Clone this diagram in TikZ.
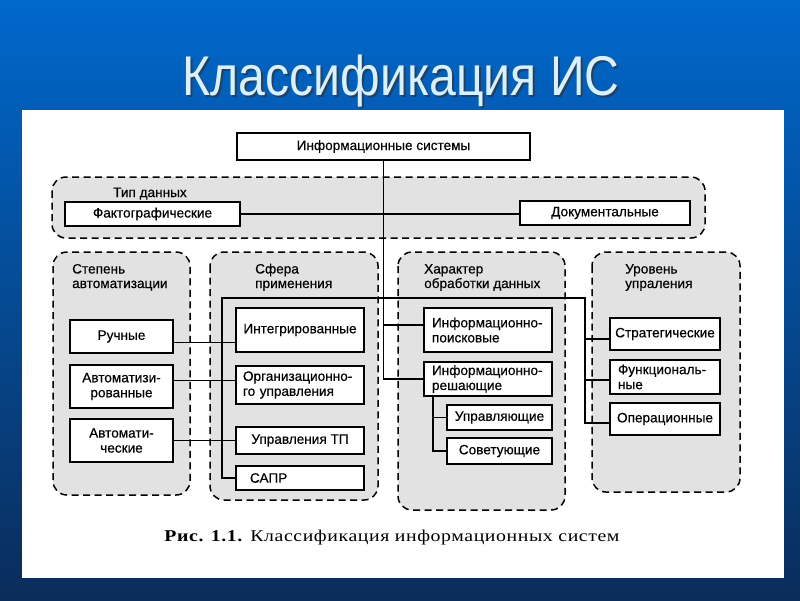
\documentclass[tikz,border=0pt]{standalone}
\usepackage{fontspec}
\setmainfont{Liberation Sans}
\newfontfamily\boxfont[FakeBold=0.4]{Liberation Sans}
\newfontfamily\capfont[LetterSpace=3]{Liberation Serif}
\usetikzlibrary{positioning}
\definecolor{slidetop}{HTML}{0068CC}
\definecolor{slidebot}{HTML}{0A2C5A}
\definecolor{titleblue}{HTML}{D8F0FF}
\definecolor{groupgray}{HTML}{E2E2E2}

\begin{document}
\begin{tikzpicture}[x=1pt,y=-1pt,
  box/.style={draw,line width=1.4pt,fill=white,align=center,inner sep=2pt,
    font=\boxfont\fontsize{13.6}{15}\selectfont},
  colA/.style={box,minimum width=103pt},
  colB/.style={box,minimum width=128pt},
  colD/.style={box,minimum width=105pt},
  colE/.style={box,minimum width=110pt},
  group/.style={draw,dash pattern=on 7pt off 4.5pt,line width=1.5pt,
    rounded corners=14pt,fill=groupgray},
  grouplabel/.style={align=left,anchor=base west,inner sep=0pt,
    font=\boxfont\fontsize{13.6}{14.5}\selectfont},
  link/.style={line width=1.1pt}]
\useasboundingbox (0,0) rectangle (800,600);
\shade[top color=slidetop,bottom color=slidebot] (0,0) rectangle (800,600);
\fill[white] (22,110) rectangle (784,578);

% title
\node[anchor=base,text=black!80,opacity=.7,xscale=.86,
  font=\fontsize{56}{60}\selectfont] (titleshadow) at (403,97) {Классификация ИС};
\node[anchor=base,text=titleblue,xscale=.86,
  font=\fontsize{56}{60}\selectfont] (title) at (401,95) {Классификация ИС};

% groups
\draw[group] (52,177) rectangle (705,238);
\draw[group] (53,252) rectangle (190,495);
\draw[group] (210,252) rectangle (378,500);
\draw[group] (398,252) rectangle (565,510);
\draw[group] (592,252) rectangle (740,492);
\node[grouplabel] (lbtype) at (113,197) {Тип данных};
\node[grouplabel] (lbauto) at (72,288) {Степень\\автоматизации};
\node[grouplabel] (lbsfera) at (255,288) {Сфера\\применения};
\node[grouplabel] (lbchar) at (424,288) {Характер\\обработки данных};
\node[grouplabel] (lblevel) at (625,288) {Уровень\\упраления};

% boxes
\node[box,minimum width=293pt,minimum height=27pt] (is) at (383.5,146.5) {Информационные системы};
\node[box,minimum width=175pt,minimum height=24pt] (fakt) at (152.5,214) {Фактографические};
\node[box,minimum width=170pt,minimum height=24pt] (dok) at (605,213) {Документальные};

\node[colA,minimum height=33pt] (ruch) at (121.5,336.5) {Ручные};
\node[colA,minimum height=43pt] (avtz) at (121.5,386.5) {Автоматизи-\\рованные};
\node[colA,minimum height=43pt] (avtm) at (121.5,440.5) {Автомати-\\ческие};

\node[colB,minimum height=44pt] (integr) at (300,330) {Интегрированные};
\node[colB,minimum height=38pt,text width=114pt,align=left] (org) at (300,385) {Организационно-\\го управления};
\node[colB,minimum height=27pt] (utp) at (300,440.5) {Управления ТП};
\node[colB,minimum height=24pt,text width=100pt,align=left] (sapr) at (300,478) {САПР};

\node[colB,minimum height=44pt,text width=112pt,align=left] (ipoisk) at (488,330) {Информационно-\\поисковые};
\node[colB,minimum height=34pt,text width=112pt,align=left] (ires) at (488,379) {Информационно-\\решающие};
\node[colD,minimum height=25pt] (uprav) at (499.5,417.5) {Управляющие};
\node[colD,minimum height=26pt] (sovet) at (499.5,451) {Советующие};

\node[colE,minimum height=32pt] (strat) at (665,334) {Стратегические};
\node[colE,minimum height=34pt,text width=94pt,align=left] (funk) at (665,377) {Функциональ-\\ные};
\node[colE,minimum height=32pt] (oper) at (665,419) {Операционные};

% connectors
\coordinate (sl) at (222,298);
\coordinate (sr) at (585,298);
\coordinate (rk) at (433,396);
\draw[link] (is) |- (ires);
\draw[link] (fakt.east) -- (fakt.east -| dok.west);
\draw[link] (sapr.west) -| (sl) -- (sr) |- ([yshift=-4pt]oper.west);
\draw[link] ([yshift=-5pt]strat.west) -- ([yshift=-5pt]strat.west -| sr);
\draw[link] ([yshift=-3pt]funk.west) -- ([yshift=-3pt]funk.west -| sr);
\draw[link] ([yshift=5pt]ipoisk.west) -- ([yshift=5pt]ipoisk.west -| is);
\draw[link] (rk) |- (sovet.west);
\draw[link] (uprav.west) -- (uprav.west -| rk);
\draw[link] ([yshift=-6pt]ruch.east) -- ([yshift=-6pt]ruch.east -| integr.west);
\draw[link] ([yshift=6pt]avtz.east) -- ([yshift=6pt]avtz.east -| org.west);
\draw[link] (avtm.east) -- (avtm.east -| utp.west);

% caption
\node[anchor=base,xscale=1.2,font=\capfont\fontsize{16.5}{18}\selectfont] (caption) at (392,541)
  {\textbf{Рис. 1.1.} Классификация информационных систем};
\end{tikzpicture}
\end{document}
